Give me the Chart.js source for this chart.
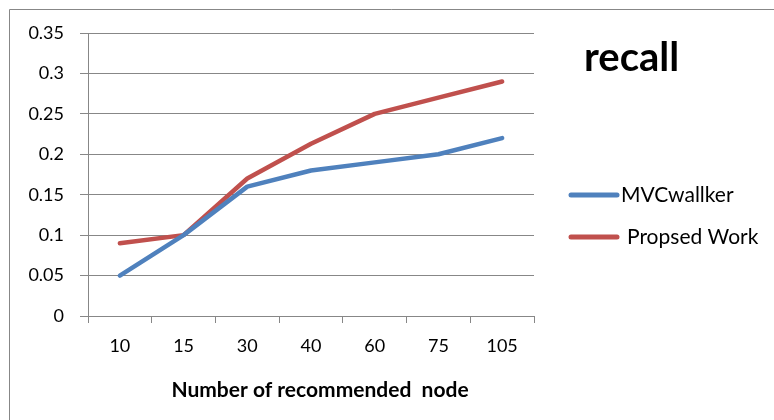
<!DOCTYPE html>
<html>
<head>
<meta charset="utf-8">
<script src="https://cdn.jsdelivr.net/npm/chart.js@4.4.1/dist/chart.umd.min.js"></script>
<style>
  html, body { margin: 0; padding: 0; background: #fff; }
  #wrap { width: 774px; height: 420px; }
</style>
</head>
<body>
<div id="wrap"><canvas id="recallChart" width="774" height="420"></canvas></div>
<script>
// chart values
const nodeCounts = ["10", "15", "30", "40", "60", "75", "105"];
const mvcWalker = [0.05, 0.10, 0.16, 0.18, 0.19, 0.20, 0.22];
const proposedWork = [0.09, 0.10, 0.17, 0.213, 0.25, 0.27, 0.29];
const yTicks = [0, 0.05, 0.1, 0.15, 0.2, 0.25, 0.3, 0.35];

const chartTitle = "recall";
const xTitle = "Number of recommended  node";
const fontName = "Lato, 'Open Sans', sans-serif";
const gridGray = "#878787";

// frame, title, legend and axis title drawn on top of the chart
const extras = {
    id: "extras",
    afterDraw(chart) {
        const ctx = chart.ctx;
        ctx.save();
        ctx.strokeStyle = gridGray;
        ctx.lineWidth = 1;
        ctx.beginPath();
        ctx.moveTo(9.5, 420);
        ctx.lineTo(9.5, 9.5);
        ctx.lineTo(774, 9.5);
        ctx.stroke();

        ctx.fillStyle = "#000";
        ctx.textBaseline = "alphabetic";
        ctx.textAlign = "left";
        ctx.font = "bold 40px " + fontName;
        ctx.fillText(chartTitle, 584, 71);

        ctx.font = "bold 21px " + fontName;
        ctx.textAlign = "center";
        ctx.textBaseline = "middle";
        ctx.fillText(xTitle, 320, 390);

        // legend
        const legendY = [195, 237];
        const textX = [621, 627];
        ctx.font = "21px " + fontName;
        ctx.textAlign = "left";
        chart.data.datasets.forEach(function (ds, i) {
            ctx.strokeStyle = ds.borderColor;
            ctx.lineWidth = 5;
            ctx.lineCap = "round";
            ctx.beginPath();
            ctx.moveTo(571, legendY[i]);
            ctx.lineTo(617, legendY[i]);
            ctx.stroke();
            ctx.fillText(ds.label, textX[i], legendY[i]);
        });
        ctx.restore();
    }
};

const ctx = document.getElementById("recallChart").getContext("2d");
new Chart(ctx, {
    type: "line",
    data: {
        labels: nodeCounts,
        datasets: [
            {
                label: "MVCwallker",
                data: mvcWalker,
                borderColor: "#4F81BD",
                borderWidth: 4.5,
                pointRadius: 0,
                borderCapStyle: "round",
                borderJoinStyle: "round",
                tension: 0
            },
            {
                label: "Propsed Work",
                data: proposedWork,
                borderColor: "#C0504D",
                borderWidth: 4.5,
                pointRadius: 0,
                borderCapStyle: "round",
                borderJoinStyle: "round",
                tension: 0
            }
        ]
    },
    options: {
        responsive: false,
        animation: false,
        layout: { padding: { top: 33, right: 774 - 534, left: 0, bottom: 0 } },
        plugins: {
            legend: { display: false },
            title: { display: false },
            tooltip: { enabled: false }
        },
        scales: {
            x: {
                offset: true,
                grid: {
                    offset: true,
                    drawOnChartArea: false,
                    drawTicks: true,
                    tickLength: 7,
                    color: gridGray
                },
                border: { display: false },
                ticks: {
                    color: "#000",
                    font: { family: fontName, size: 18 },
                    padding: 12,
                    maxRotation: 0
                },
                afterFit: function (scale) { scale.height = 420 - 33 - 283; }
            },
            y: {
                min: 0,
                max: 0.35,
                afterBuildTicks: function (scale) {
                    scale.ticks = yTicks.map(function (v) { return { value: v }; });
                },
                grid: {
                    color: gridGray,
                    tickLength: 8
                },
                border: { display: true, color: gridGray },
                ticks: {
                    color: "#000",
                    font: { family: fontName, size: 18 },
                    padding: 16,
                    callback: function (v) { return String(+v.toFixed(2)); }
                },
                afterFit: function (scale) { scale.width = 88; }
            }
        }
    },
    plugins: [extras]
});
</script>
</body>
</html>
